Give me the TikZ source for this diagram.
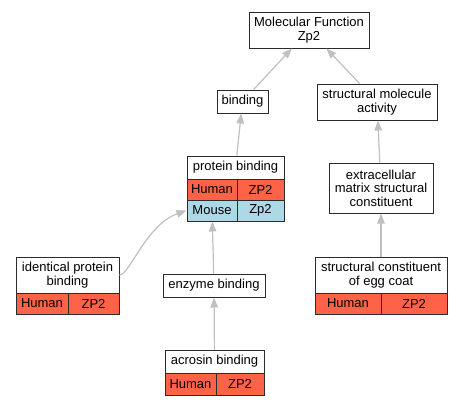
\documentclass[tikz,border=0pt]{standalone}
\usepackage{fontspec}
\setmainfont{Liberation Sans}
\usetikzlibrary{arrows.meta}
\definecolor{tomatoc}{HTML}{FF6347}
\definecolor{lblue}{HTML}{ADD8E6}
\definecolor{edgec}{HTML}{C0C0C0}
\definecolor{bord}{HTML}{2B2B2B}
\tikzset{
  box/.style={draw=bord, line width=1pt, fill=white, inner sep=0pt, align=center,
    font=\fontsize{13pt}{13.4pt}\selectfont},
  redcell/.style={box, fill=tomatoc},
  bluecell/.style={box, fill=lblue},
  edge/.style={draw=edgec, line width=1.2pt, -{Triangle[length=10pt,width=7.5pt]}},
}
\begin{document}
\begin{tikzpicture}[x=1pt,y=-1pt]
\useasboundingbox[fill=white] (0,0) rectangle (461,405);
% nodes
\node[box, minimum width=120pt, minimum height=36pt] (mf) at (309,30) {Molecular Function\\Zp2};
\node[box, minimum width=51pt, minimum height=23pt] (bind) at (242.5,101.5) {binding};
\node[box, minimum width=120pt, minimum height=36pt] (sma) at (377,102) {structural molecule\\activity};
\node[box, minimum width=97pt, minimum height=23pt] (pb) at (235.5,167.5) {protein binding};
\node[redcell, minimum width=50pt, minimum height=21pt] (pbH) at (212,189.5) {Human};
\node[redcell, minimum width=47pt, minimum height=21pt] (pbHz) at (260.5,189.5) {ZP2};
\node[bluecell, minimum width=50pt, minimum height=21pt] (pbM) at (212,210.5) {Mouse};
\node[bluecell, minimum width=47pt, minimum height=21pt] (pbMz) at (260.5,210.5) {Zp2};
\node[box, minimum width=104pt, minimum height=50pt] (ecm) at (381,188) {extracellular\\matrix structural\\constituent};
\node[box, minimum width=103pt, minimum height=36pt] (ipb) at (67.5,275) {identical protein\\binding};
\node[redcell, minimum width=52pt, minimum height=21pt] (ipbH) at (42,303.5) {Human};
\node[redcell, minimum width=51pt, minimum height=21pt] (ipbHz) at (93.5,303.5) {ZP2};
\node[box, minimum width=132pt, minimum height=36pt] (egg) at (381,275) {structural constituent\\of egg coat};
\node[redcell, minimum width=66pt, minimum height=21pt] (eggH) at (348,303.5) {Human};
\node[redcell, minimum width=66pt, minimum height=21pt] (eggHz) at (414,303.5) {ZP2};
\node[box, minimum width=102pt, minimum height=23pt] (enz) at (214,285.5) {enzyme binding};
\node[box, minimum width=99pt, minimum height=23pt] (acr) at (214.5,361.5) {acrosin binding};
\node[redcell, minimum width=51pt, minimum height=22pt] (acrH) at (190.5,384) {Human};
\node[redcell, minimum width=48pt, minimum height=22pt] (acrHz) at (240,384) {ZP2};
% edges
\draw[edge] (bind) -- (mf);
\draw[edge] (sma) -- (mf);
\draw[edge] (pb) -- (bind);
\draw[edge] (ecm) -- (sma);
\draw[edge] (egg) -- (ecm);
\draw[edge] (enz) -- (pbM);
\draw[edge] (acr) -- (enz);
\draw[edge] (ipb.east) .. controls +(10,0) and +(-40,14) .. (pbM.west);
\end{tikzpicture}
\end{document}
